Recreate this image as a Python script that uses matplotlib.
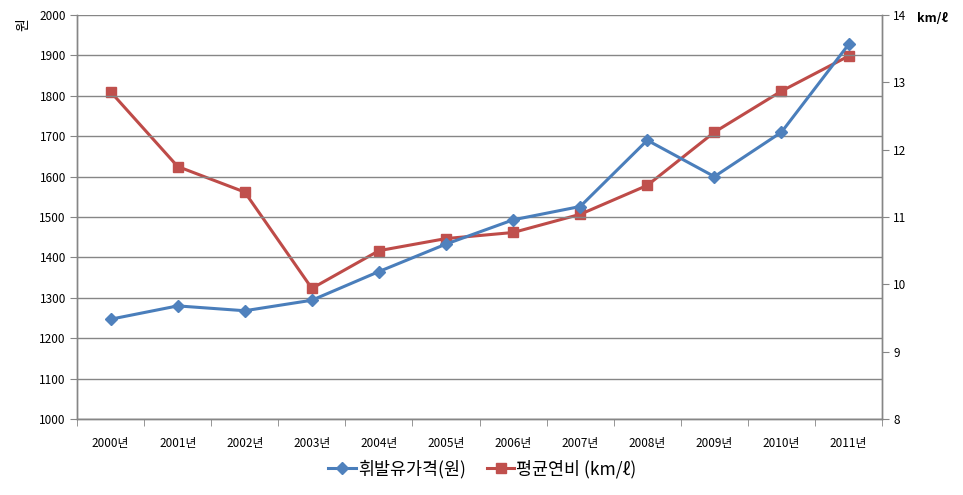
import matplotlib
matplotlib.use("Agg")
import matplotlib.pyplot as plt
import numpy as np

plt.rcParams['font.family'] = ['Noto Sans CJK KR', 'DejaVu Sans']

years = ['2000년', '2001년', '2002년', '2003년', '2004년', '2005년',
         '2006년', '2007년', '2008년', '2009년', '2010년', '2011년']
diesel_price = [1247, 1280, 1268, 1294, 1365, 1433, 1493, 1526, 1690, 1600, 1710, 1927]
fuel_eff = [12.86, 11.75, 11.37, 9.94, 10.50, 10.68, 10.77, 11.04, 11.47, 12.26, 12.87, 13.39]
left_ticks = list(range(1000, 2001, 100))
right_ticks = list(range(8, 15))
label_price = '휘발유가격(원)'
label_eff = '평균연비 (km/ℓ)'

grid_c = '#868686'
blue_line = '#4A7EBB'
blue_mk = '#4F81BD'
red_line = '#BE4B48'
red_mk = '#C0504D'

fig = plt.figure(figsize=(9.63, 4.95), dpi=100)
ax = fig.add_axes([0.080, 0.1535, 0.836, 0.8162])
ax2 = ax.twinx()

x = np.arange(len(years))
l1, = ax.plot(x, diesel_price, color=blue_line, lw=2.2, marker='D', ms=6,
              mfc=blue_mk, mec=blue_mk, label=label_price, zorder=3)
l2, = ax2.plot(x, fuel_eff, color=red_line, lw=2.2, marker='s', ms=7,
               mfc=red_mk, mec=red_mk, label=label_eff, zorder=3)

ax.set_xlim(-0.5, len(years) - 0.5)
ax.set_ylim(1000, 2000)
ax2.set_ylim(8, 14)
ax.set_yticks(left_ticks)
ax2.set_yticks(right_ticks)
ax.set_yticklabels([str(v) for v in left_ticks], fontsize=8.5)
ax2.set_yticklabels([str(v) for v in right_ticks], fontsize=8.5)

ax.set_xticks(x)
ax.set_xticklabels(years, fontsize=8.5)
ax.set_xticks(np.arange(-0.5, len(years)), minor=True)
ax.tick_params(axis='x', which='major', length=0, pad=13)
ax.tick_params(axis='x', which='minor', length=5, color=grid_c)
ax.tick_params(axis='y', length=5, color=grid_c, pad=3)
ax2.tick_params(axis='y', length=5, color=grid_c, pad=3)

ax.yaxis.grid(True, color=grid_c, lw=1)
ax.set_axisbelow(True)

for a in (ax, ax2):
    a.spines['top'].set_visible(False)
    for s in ('left', 'right', 'bottom'):
        a.spines[s].set_color(grid_c)
        a.spines[s].set_linewidth(1)

ax.set_zorder(ax2.get_zorder() + 1)
ax.patch.set_visible(False)

fig.text(0.024, 0.950, '원', rotation=90, fontsize=10, ha='center', va='center')
fig.text(0.968, 0.962, 'km/ℓ', fontsize=9, fontweight='bold', ha='center', va='center')

fig.legend([l1, l2], [label_price, label_eff], loc='center', bbox_to_anchor=(0.501, 0.053),
           ncol=2, frameon=False, fontsize=12.5, handlelength=1.6, columnspacing=1.2,
           handletextpad=0.1)

fig.savefig('out.png', dpi=100)
